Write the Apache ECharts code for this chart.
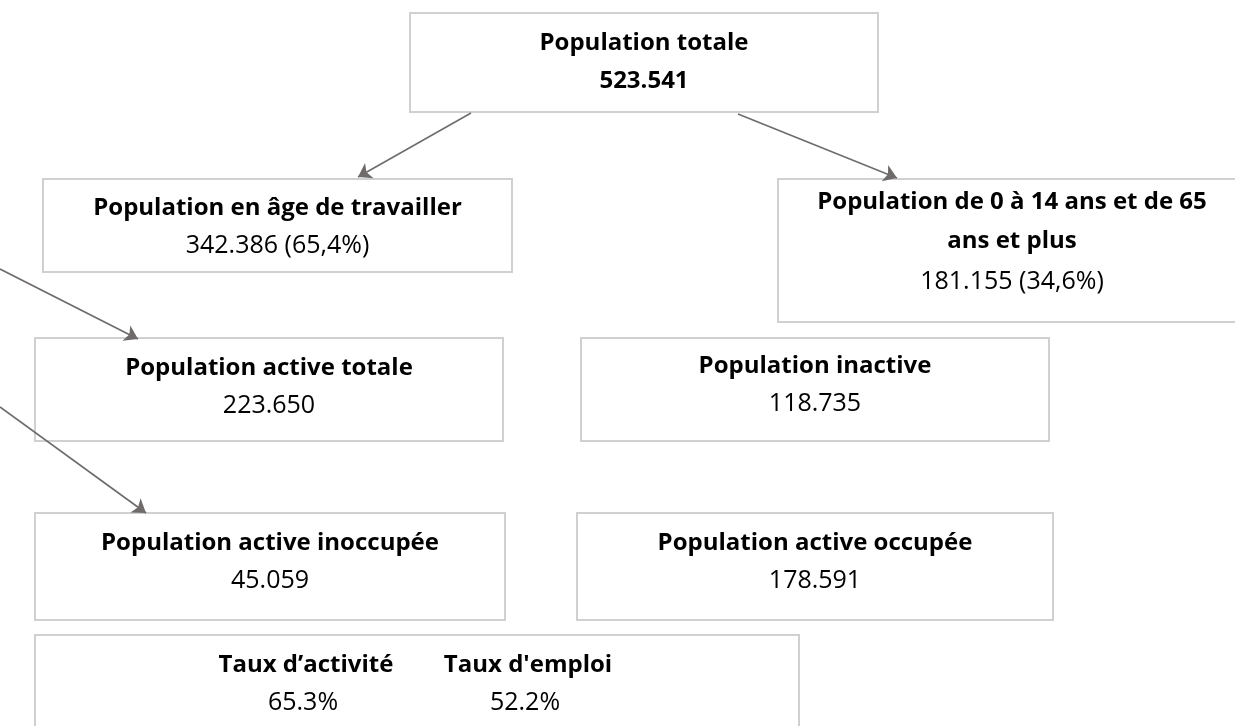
<!DOCTYPE html>
<html>
<head>
<meta charset="utf-8">
<script src="https://cdn.jsdelivr.net/npm/echarts@6/dist/echarts.min.js"></script>
<style>
  html, body { margin: 0; padding: 0; background: #fff; }
  #root { width: 1235px; height: 726px; }
</style>
</head>
<body>
<div id="root"></div>
<script>
// données
const titles = [
  'Population totale',
  'Population en âge de travailler',
  'Population de 0 à 14 ans et de 65\nans et plus',
  'Population active totale',
  'Population inactive',
  'Population active inoccupée',
  'Population active occupée'
];
const values = ['523.541', '342.386 (65,4%)', '181.155 (34,6%)', '223.650', '118.735', '45.059', '178.591'];
const rateLabels = ['Taux d’activité', "Taux d'emploi"];
const rateValues = ['65.3%', '52.2%'];

// mise en page (pixels de la page)
const boxes = [
  [410, 13, 878, 112],
  [43, 179, 512, 272],
  [778, 179, 1245, 322],
  [35, 338, 503, 441],
  [581, 338, 1049, 441],
  [35, 513, 505, 620],
  [577, 513, 1053, 620]
];
const lineY = [[43, 81], [208, 246], [202, 241, 282], [368, 406], [366, 404], [543, 581], [543, 581]];
const rateBox = [35, 635, 799, 745];
const rateX = [306, 528];
const rateY = [665, 703];
const arrows = [
  [[471, 113], [358, 177]],
  [[738, 114], [897, 178]],
  [[0, 269], [138, 339]],
  [[0, 407], [146, 513]]
];

const FONT = '"Open Sans", Lato, sans-serif';

let myChart = echarts.init(document.querySelector('#root'), null, { renderer: 'canvas' });

function txt(api, s, x, y, bold) {
  let p = api.coord([x, y]);
  return {
    type: 'text',
    style: {
      text: s, x: p[0], y: p[1], align: 'center', verticalAlign: 'middle',
      fill: '#000', font: (bold ? 'bold 24px ' : '25px ') + FONT
    }
  };
}

function rect(api, b) {
  let p0 = api.coord([b[0], b[1]]);
  let p1 = api.coord([b[2], b[3]]);
  return {
    type: 'rect',
    shape: { x: p0[0], y: p0[1], width: p1[0] - p0[0], height: p1[1] - p0[1] },
    style: { fill: '#fff', stroke: '#d0d0d0', lineWidth: 2 }
  };
}

let option = {
  animation: false,
  grid: { left: 0, right: 0, top: 0, bottom: 0 },
  xAxis: { type: 'value', min: 0, max: 1235, show: false },
  yAxis: { type: 'value', min: 0, max: 726, inverse: true, show: false },
  series: [
    {
      type: 'custom',
      coordinateSystem: 'cartesian2d',
      data: boxes.map((b, i) => [b[0], b[1], i]),
      renderItem: function (params, api) {
        let i = params.dataIndex;
        let b = boxes[i];
        let cx = (b[0] + b[2]) / 2;
        if (i === 2) cx = 1012;
        let parts = titles[i].split('\n');
        let children = [rect(api, b)];
        parts.forEach((t, k) => children.push(txt(api, t, cx, lineY[i][k], true)));
        children.push(txt(api, values[i], cx, lineY[i][parts.length], i === 0));
        return { type: 'group', children: children };
      }
    },
    {
      type: 'custom',
      coordinateSystem: 'cartesian2d',
      data: [[rateBox[0], rateBox[1]]],
      renderItem: function (params, api) {
        let children = [rect(api, rateBox)];
        rateLabels.forEach((t, k) => {
          children.push(txt(api, t, rateX[k], rateY[0], true));
          children.push(txt(api, rateValues[k], rateX[k] - 3, rateY[1], false));
        });
        return { type: 'group', children: children };
      }
    },
    {
      type: 'lines',
      coordinateSystem: 'cartesian2d',
      symbol: ['none', 'arrow'],
      symbolSize: 13,
      lineStyle: { color: '#6f6b6b', width: 1.6, opacity: 1 },
      data: arrows.map(a => ({ coords: a })),
      z: 5
    }
  ]
};

myChart.setOption(option);
window.addEventListener('resize', function () { myChart.resize(); });
</script>
</body>
</html>
